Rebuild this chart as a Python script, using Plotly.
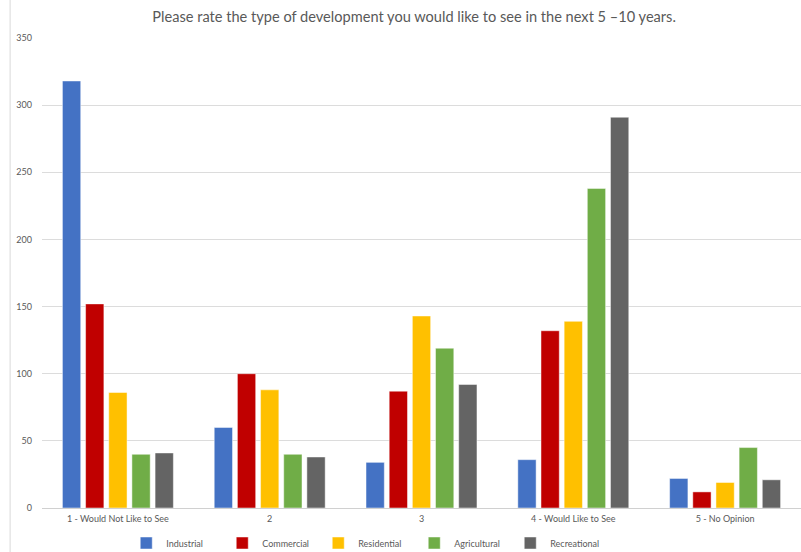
import plotly.graph_objects as go

categories = ["1 - Would Not Like to See", "2", "3", "4 - Would Like to See", "5 - No Opinion"]
industrial = [318, 60, 34, 36, 22]
commercial = [152, 100, 87, 132, 12]
residential = [86, 88, 143, 139, 19]
agricultural = [40, 40, 119, 238, 45]
recreational = [41, 38, 92, 291, 21]

series = [
    ("Industrial", industrial, "#4472C4"),
    ("Commercial", commercial, "#C00000"),
    ("Residential", residential, "#FFC000"),
    ("Agricultural", agricultural, "#70AD47"),
    ("Recreational", recreational, "#646464"),
]

fig = go.Figure()
for name, vals, col in series:
    fig.add_trace(go.Bar(x=categories, y=vals, name=name,
                         marker=dict(color=col, line=dict(color="rgba(255,255,255,0.6)", width=0.8))))

fig.update_layout(
    width=801, height=552,
    paper_bgcolor="white", plot_bgcolor="white",
    margin=dict(l=42, r=0, t=38, b=44, autoexpand=False),
    barmode="group", bargap=0.237, bargroupgap=0.21,
    font=dict(family="Lato, Open Sans, sans-serif", color="#595959", size=9),
    title=dict(text="Please rate the type of development you would like to see in the next 5 \u201310 years.",
               x=0.517, xanchor="center", y=0.97, yanchor="middle",
               font=dict(size=14.6, color="#595959", family="Lato, Open Sans, sans-serif")),
    xaxis=dict(showgrid=False, showline=False, ticks="", ticklabelstandoff=4,
               tickfont=dict(size=9, color="#595959")),
    yaxis=dict(range=[0, 350], dtick=50, showgrid=True, gridcolor="#dcdcdc", gridwidth=1,
               zeroline=True, zerolinecolor="#d0d0d0", zerolinewidth=1,
               ticks="", ticklabelstandoff=9, tickfont=dict(size=9, color="#595959")),
    legend=dict(orientation="h", x=0.111, xanchor="left", y=-0.0745, yanchor="middle",
                font=dict(size=9, color="#595959"), entrywidth=51, entrywidthmode="pixels",
                itemwidth=30),
    showlegend=True,
)

fig.add_shape(type="line", xref="paper", yref="paper", x0=-0.042, x1=-0.042, y0=-0.1, y1=1.09,
              line=dict(color="#d9d9d9", width=1))

fig.write_html("out.html")
